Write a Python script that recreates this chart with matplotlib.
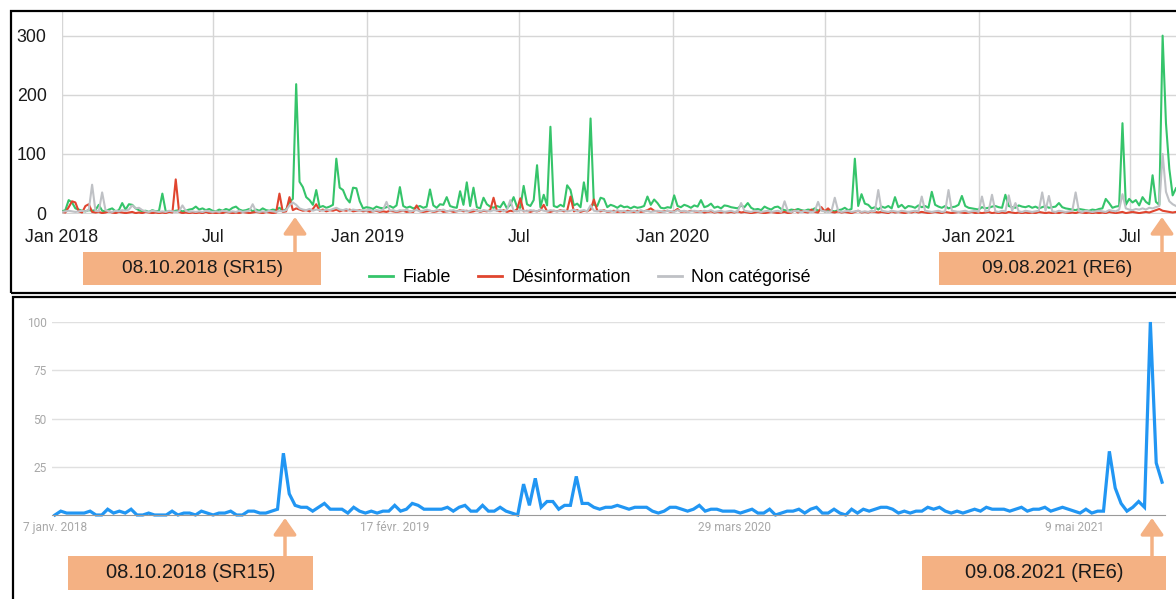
import matplotlib
matplotlib.use('Agg')
import matplotlib.pyplot as plt
from matplotlib.patches import Rectangle, FancyArrowPatch
from matplotlib.lines import Line2D
import numpy as np
import pandas as pd

# ---- top chart: articles per 4-day step, starting 1 Jan 2018 ----
fiable = [
    3, 5, 22, 18, 8, 6, 4, 3, 5, 4,
    5, 14, 4, 3, 6, 8, 3, 5, 17, 6,
    15, 14, 8, 5, 3, 4, 2, 5, 3, 4,
    33, 3, 2, 3, 4, 5, 3, 4, 6, 7,
    11, 6, 8, 5, 7, 4, 3, 6, 4, 7,
    5, 9, 11, 6, 4, 5, 7, 3, 6, 4,
    8, 5, 4, 6, 5, 9, 4, 6, 19, 24,
    218, 53, 44, 27, 22, 14, 39, 10, 12, 9,
    11, 14, 92, 43, 39, 25, 18, 43, 42, 20,
    8, 10, 9, 7, 11, 9, 8, 10, 12, 9,
    13, 44, 12, 9, 11, 8, 10, 12, 9, 11,
    40, 13, 9, 15, 14, 27, 12, 10, 9, 37,
    14, 52, 12, 43, 10, 8, 26, 15, 11, 9,
    12, 10, 19, 8, 14, 27, 11, 9, 46, 15,
    12, 22, 81, 10, 31, 13, 146, 12, 10, 14,
    11, 47, 39, 13, 16, 10, 52, 20, 160, 14,
    12, 26, 24, 10, 14, 12, 9, 13, 10, 11,
    8, 11, 9, 10, 12, 28, 14, 23, 17, 9,
    8, 10, 9, 30, 12, 10, 14, 12, 9, 13,
    11, 22, 10, 12, 16, 9, 11, 8, 13, 12,
    10, 9, 8, 13, 10, 17, 9, 6, 7, 5,
    11, 8, 6, 10, 11, 7, 5, 4, 6, 5,
    7, 5, 4, 6, 5, 8, 4, 6, 3, 5,
    4, 3, 5, 6, 9, 5, 7, 92, 12, 32,
    16, 14, 8, 10, 6, 11, 9, 12, 8, 27,
    10, 14, 8, 12, 11, 9, 13, 10, 12, 9,
    36, 14, 11, 9, 12, 8, 10, 11, 14, 29,
    12, 9, 8, 7, 6, 10, 8, 9, 11, 12,
    10, 9, 31, 12, 10, 9, 13, 11, 10, 12,
    9, 11, 8, 10, 12, 9, 10, 11, 17, 10,
    8, 7, 6, 5, 7, 6, 5, 4, 6, 5,
    7, 8, 24, 17, 9, 11, 12, 152, 14, 24,
    18, 22, 13, 27, 19, 15, 64, 19, 14, 300,
    152, 75, 30, 42,
]
desinfo = [
    2, 1, 10, 20, 18, 3, 1, 12, 15, 2,
    1, 2, 0, 1, 3, 1, 0, 2, 1, 0,
    1, 2, 0, 1, 0, 2, 1, 0, 1, 0,
    1, 0, 2, 1, 57, 2, 0, 1, 0, 1,
    0, 1, 0, 2, 0, 1, 0, 1, 0, 2,
    1, 0, 1, 0, 2, 1, 0, 1, 2, 1,
    0, 2, 1, 0, 1, 33, 2, 3, 27, 5,
    8, 6, 4, 5, 3, 7, 15, 4, 6, 3,
    5, 4, 6, 3, 5, 4, 6, 3, 4, 5,
    3, 4, 2, 3, 4, 2, 3, 2, 4, 3,
    2, 3, 4, 2, 3, 2, 13, 3, 2, 3,
    4, 2, 3, 5, 2, 3, 4, 2, 3, 5,
    3, 4, 2, 3, 5, 2, 4, 3, 5, 26,
    4, 3, 5, 2, 4, 3, 6, 25, 3, 4,
    2, 4, 3, 5, 14, 3, 2, 4, 3, 5,
    3, 4, 28, 3, 5, 2, 4, 3, 6, 23,
    4, 3, 5, 2, 3, 4, 2, 3, 2, 4,
    3, 2, 4, 2, 3, 5, 8, 4, 3, 2,
    3, 4, 2, 3, 7, 2, 3, 2, 4, 3,
    2, 3, 1, 2, 3, 1, 2, 1, 2, 1,
    2, 1, 3, 1, 2, 1, 0, 1, 2, 1,
    0, 1, 2, 1, 0, 1, 2, 0, 1, 5,
    1, 4, 2, 1, 6, 2, 1, 10, 3, 8,
    2, 1, 3, 1, 2, 1, 0, 2, 4, 1,
    2, 1, 3, 2, 1, 2, 1, 0, 3, 1,
    2, 1, 0, 2, 1, 3, 1, 2, 1, 0,
    1, 2, 1, 0, 2, 1, 0, 1, 2, 1,
    0, 1, 2, 0, 1, 0, 1, 2, 0, 1,
    0, 1, 0, 2, 1, 0, 1, 0, 1, 0,
    1, 0, 2, 1, 0, 1, 0, 1, 0, 2,
    1, 0, 1, 0, 2, 1, 0, 1, 0, 1,
    0, 1, 0, 2, 1, 0, 1, 2, 0, 1,
    2, 1, 0, 1, 2, 1, 3, 5, 7, 4,
    3, 2, 1, 2,
]
non_cat = [
    2, 3, 4, 3, 2, 3, 4, 3, 5, 48,
    4, 3, 35, 5, 3, 2, 4, 3, 5, 4,
    6, 13, 8, 9, 5, 3, 2, 4, 3, 2,
    3, 2, 4, 3, 2, 3, 13, 4, 2, 3,
    2, 3, 2, 4, 3, 2, 3, 2, 4, 3,
    2, 3, 2, 4, 2, 3, 4, 15, 3, 2,
    3, 2, 4, 3, 2, 4, 3, 5, 13, 18,
    14, 8, 6, 5, 7, 4, 6, 5, 4, 6,
    5, 7, 9, 6, 5, 7, 4, 6, 5, 4,
    5, 4, 6, 3, 5, 4, 6, 19, 4, 5,
    3, 5, 4, 6, 3, 4, 5, 3, 4, 6,
    4, 3, 5, 4, 6, 3, 4, 5, 3, 4,
    5, 3, 4, 6, 4, 3, 5, 4, 3, 5,
    4, 6, 3, 5, 22, 4, 3, 5, 4, 3,
    5, 4, 3, 6, 4, 3, 5, 4, 3, 4,
    5, 3, 4, 6, 3, 4, 5, 3, 13, 4,
    3, 5, 4, 3, 4, 2, 5, 3, 4, 2,
    3, 4, 2, 5, 3, 4, 2, 3, 4, 3,
    2, 4, 3, 2, 5, 3, 4, 2, 3, 4,
    3, 2, 4, 3, 5, 2, 3, 4, 2, 3,
    4, 2, 3, 17, 4, 3, 2, 4, 3, 2,
    3, 4, 2, 3, 4, 2, 20, 3, 2, 4,
    3, 2, 4, 3, 2, 3, 19, 4, 3, 2,
    3, 26, 4, 2, 3, 4, 2, 3, 4, 2,
    3, 2, 4, 3, 39, 4, 3, 2, 4, 3,
    2, 4, 3, 2, 3, 4, 3, 28, 4, 3,
    2, 3, 4, 2, 3, 39, 4, 3, 2, 3,
    4, 2, 3, 4, 2, 28, 3, 4, 31, 3,
    2, 4, 3, 30, 4, 17, 3, 2, 4, 3,
    2, 3, 4, 35, 4, 29, 3, 2, 4, 3,
    2, 3, 4, 35, 3, 2, 4, 3, 2, 3,
    4, 3, 2, 5, 4, 3, 6, 32, 8, 6,
    5, 7, 6, 8, 6, 9, 8, 10, 12, 100,
    36, 20, 15, 12,
]
top_ticks = ['2018-01-01', '2018-07-01', '2019-01-01', '2019-07-01',
             '2020-01-01', '2020-07-01', '2021-01-01', '2021-07-01']
top_labels = ['Jan 2018', 'Jul', 'Jan 2019', 'Jul', 'Jan 2020', 'Jul', 'Jan 2021', 'Jul']

# ---- bottom chart: Google Trends weekly interest, starting 7 Jan 2018 ----
trends = [
    0, 2, 1, 1, 1, 1, 2, 0, 0, 3, 1, 2, 1, 3, 0, 0, 1, 0, 0, 0,
    2, 0, 1, 1, 0, 2, 1, 0, 1, 1, 2, 0, 0, 2, 2, 1, 1, 2, 3, 32,
    11, 5, 4, 4, 2, 4, 6, 3, 3, 3, 1, 4, 2, 1, 2, 1, 2, 2, 5, 2,
    3, 6, 5, 3, 3, 3, 3, 4, 2, 4, 5, 2, 2, 5, 2, 2, 4, 2, 1, 0,
    16, 5, 19, 4, 7, 7, 3, 5, 5, 20, 6, 6, 4, 3, 4, 4, 5, 4, 3, 4,
    4, 4, 2, 1, 2, 4, 4, 3, 2, 3, 5, 2, 3, 3, 2, 2, 2, 1, 2, 3,
    1, 1, 3, 0, 1, 2, 2, 3, 1, 3, 4, 1, 1, 3, 1, 0, 3, 1, 3, 2,
    3, 4, 4, 3, 1, 2, 1, 2, 2, 4, 3, 4, 2, 1, 2, 1, 2, 3, 2, 4,
    3, 3, 3, 2, 3, 4, 2, 3, 3, 4, 2, 3, 4, 3, 2, 1, 3, 1, 2, 2,
    33, 14, 6, 2, 4, 7, 4, 100, 27, 17,
]
bottom_ticks = ['2018-01-07', '2019-02-17', '2020-03-29', '2021-05-09']
bottom_labels = ['7 janv. 2018', '17 févr. 2019', '29 mars 2020', '9 mai 2021']

W, H = 1176, 599
fig = plt.figure(figsize=(W / 100, H / 100), dpi=100)

def fx(x):
    return x / W

def fy(y):
    return 1 - y / H

GREEN, RED, GREY = '#35C46A', '#E0452F', '#BFC1C5'
ORANGE = '#F4B183'

# top chart
days = pd.date_range('2018-01-01', periods=len(fiable), freq='4D')
ax = fig.add_axes([fx(62), fy(214), (1176 - 62) / W, (214 - 12) / H])
ax.plot(days, fiable, color=GREEN, lw=1.5, label='Fiable')
ax.plot(days, desinfo, color=RED, lw=1.5, label='Désinformation')
ax.plot(days, non_cat, color=GREY, lw=1.5, label='Non catégorisé')
ax.set_xlim(pd.Timestamp('2018-01-01'), pd.Timestamp('2018-01-01') + pd.Timedelta(days=1332))
ax.set_ylim(-1.5, 340)
ax.set_yticks([0, 100, 200, 300])
ax.set_xticks(pd.to_datetime(top_ticks))
ax.set_xticklabels(top_labels)
ax.grid(True, color='#d6d6d6', lw=1)
ax.set_axisbelow(True)
for s in ax.spines.values():
    s.set_visible(False)
ax.tick_params(length=0, labelsize=12.8, labelcolor='#1a1a1a')
ax.tick_params(axis='x', pad=11)
ax.tick_params(axis='y', pad=11)
for t in ax.get_xticklabels() + ax.get_yticklabels():
    t.set_family('Liberation Sans')

handles = [Line2D([], [], color=c, lw=2) for c in (GREEN, RED, GREY)]
fig.legend(handles, ['Fiable', 'Désinformation', 'Non catégorisé'], loc='center',
           bbox_to_anchor=(fx(590), fy(278)), ncol=3, frameon=False,
           prop={'family': 'Liberation Sans', 'size': 12.8},
           handlelength=1.35, handletextpad=0.5, columnspacing=1.55)

# bottom chart
weeks = pd.date_range('2018-01-07', periods=len(trends), freq='7D')
bx = fig.add_axes([fx(52), fy(515), (1165 - 52) / W, (515 - 322) / H])
bx.plot(weeks, trends, color='#2196F3', lw=2.3, clip_on=False, solid_joinstyle='miter')
bx.set_xlim(weeks[0] - pd.Timedelta(days=3.5), weeks[-1] + pd.Timedelta(days=3.5))
bx.set_ylim(0, 100)
bx.set_yticks([25, 50, 75, 100])
bx.set_xticks(pd.to_datetime(bottom_ticks))
bx.set_xticklabels(bottom_labels)
bx.grid(True, axis='y', color='#e0e0e0', lw=1)
bx.set_axisbelow(True)
for k, s in bx.spines.items():
    s.set_visible(k == 'bottom')
bx.spines['bottom'].set_color('#9a9a9a')
bx.tick_params(length=0, labelsize=8.6, labelcolor='#a8a8a8', pad=4)
for t in bx.get_xticklabels() + bx.get_yticklabels():
    t.set_family('Roboto')

# panel frames
for x0, y0, y1 in [(11, 11, 293), (13, 297, 620)]:
    fig.add_artist(Rectangle((fx(x0), fy(y1)), fx(1250 - x0), (y1 - y0) / H,
                             transform=fig.transFigure, fill=False,
                             edgecolor='black', lw=1.6, clip_on=False))

# event boxes and arrows
boxes = [(83, 321, 252, 285, 295, 217, '08.10.2018 (SR15)', 13.7),
         (939, 1176, 252, 285, 1162, 217, '09.08.2021 (RE6)', 13.7),
         (68, 313, 556, 590, 285, 518, '08.10.2018 (SR15)', 14.5),
         (922, 1166, 556, 590, 1152, 518, '09.08.2021 (RE6)', 14.5)]
for x0, x1, y0, y1, ax_x, ax_y, label, size in boxes:
    fig.add_artist(Rectangle((fx(x0), fy(y1)), (x1 - x0) / W, (y1 - y0) / H,
                             transform=fig.transFigure, facecolor=ORANGE,
                             edgecolor='none'))
    fig.text(fx((x0 + x1) / 2), fy((y0 + y1) / 2), label, ha='center', va='center',
             fontsize=size, family='Liberation Sans', color='#1a1a1a')
    fig.add_artist(FancyArrowPatch((fx(ax_x), fy(y0)), (fx(ax_x), fy(ax_y)),
                                   transform=fig.transFigure,
                                   arrowstyle='-|>,head_length=0.5,head_width=0.35',
                                   mutation_scale=20, color=ORANGE, lw=2.5,
                                   shrinkA=0, shrinkB=0))

fig.savefig('out.png', dpi=100)
